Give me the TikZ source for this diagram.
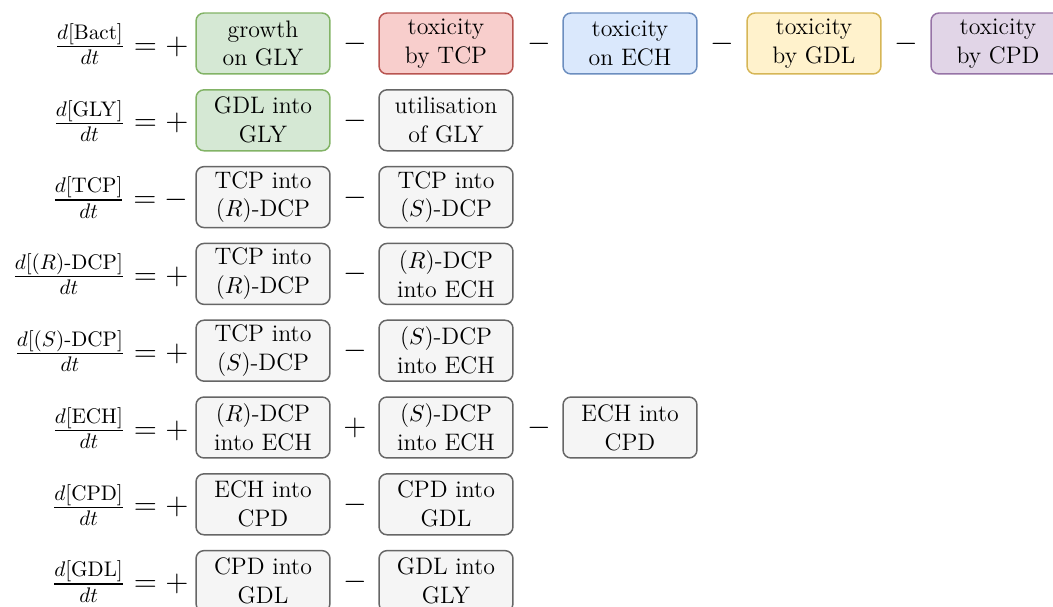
\documentclass[tikz,border=0pt]{standalone}
\usepackage{amsmath}
\definecolor{gfill}{HTML}{D5E8D4}\definecolor{gline}{HTML}{82B366}
\definecolor{rfill}{HTML}{F8CECC}\definecolor{rline}{HTML}{B85450}
\definecolor{bfill}{HTML}{DAE8FC}\definecolor{bline}{HTML}{6C8EBF}
\definecolor{yfill}{HTML}{FFF2CC}\definecolor{yline}{HTML}{D6B656}
\definecolor{pfill}{HTML}{E1D5E7}\definecolor{pline}{HTML}{9673A6}
\definecolor{nfill}{HTML}{F5F5F5}\definecolor{nline}{HTML}{666666}
\tikzset{
  term/.style={draw=nline, fill=nfill, line width=0.7pt, rounded corners=3.8pt,
    minimum width=63.5pt, minimum height=28.9pt, inner sep=0pt, align=center,
    font=\fontsize{11.3}{13.7}\selectfont},
  gterm/.style={term, draw=gline, fill=gfill},
  rterm/.style={term, draw=rline, fill=rfill},
  bterm/.style={term, draw=bline, fill=bfill},
  yterm/.style={term, draw=yline, fill=yfill},
  pterm/.style={term, draw=pline, fill=pfill},
  lhs/.style={anchor=east, inner sep=0pt, font=\fontsize{14.4}{17}\selectfont},
  sgn/.style={inner sep=0pt, font=\fontsize{14.4}{17}\selectfont},
}
\begin{document}
\begin{tikzpicture}[x=0.474pt, y=-0.474pt]
\useasboundingbox (0,0) rectangle (1053,607);
% row 1
\node[lhs] (l1) at (189,44) {$\frac{d[\mathrm{Bact}]}{dt} = +$};
\node[gterm] (a1) at (263,43.5) {growth\\on GLY};
\node[sgn] (s11) at (355,44) {$-$};
\node[rterm] (b1) at (446,43.5) {toxicity\\by TCP};
\node[sgn] (s12) at (539,44) {$-$};
\node[bterm] (c1) at (630,43.5) {toxicity\\on ECH};
\node[sgn] (s13) at (722,44) {$-$};
\node[yterm] (d1) at (814,43.5) {toxicity\\by GDL};
\node[sgn] (s14) at (906,44) {$-$};
\node[pterm] (e1) at (998,43.5) {toxicity\\by CPD};
% row 2
\node[lhs] (l2) at (189,120.8) {$\frac{d[\mathrm{GLY}]}{dt} = +$};
\node[gterm] (a2) at (263,120.3) {GDL into\\GLY};
\node[sgn] (s21) at (355,120.8) {$-$};
\node[term] (b2) at (446,120.3) {utilisation\\of GLY};
% row 3
\node[lhs] (l3) at (189,197.6) {$\frac{d[\mathrm{TCP}]}{dt} = -$};
\node[term] (a3) at (263,197.1) {TCP into\\($R$)-DCP};
\node[sgn] (s31) at (355,197.6) {$-$};
\node[term] (b3) at (446,197.1) {TCP into\\($S$)-DCP};
% row 4
\node[lhs] (l4) at (189,274.4) {$\frac{d[(R)\text{-DCP}]}{dt} = +$};
\node[term] (a4) at (263,273.9) {TCP into\\($R$)-DCP};
\node[sgn] (s41) at (355,274.4) {$-$};
\node[term] (b4) at (446,273.9) {($R$)-DCP\\into ECH};
% row 5
\node[lhs] (l5) at (189,351.2) {$\frac{d[(S)\text{-DCP}]}{dt} = +$};
\node[term] (a5) at (263,350.7) {TCP into\\($S$)-DCP};
\node[sgn] (s51) at (355,351.2) {$-$};
\node[term] (b5) at (446,350.7) {($S$)-DCP\\into ECH};
% row 6
\node[lhs] (l6) at (189,428) {$\frac{d[\mathrm{ECH}]}{dt} = +$};
\node[term] (a6) at (263,427.5) {($R$)-DCP\\into ECH};
\node[sgn] (s61) at (355,428) {$+$};
\node[term] (b6) at (446,427.5) {($S$)-DCP\\into ECH};
\node[sgn] (s62) at (539,428) {$-$};
\node[term] (c6) at (630,427.5) {ECH into\\CPD};
% row 7
\node[lhs] (l7) at (189,504.8) {$\frac{d[\mathrm{CPD}]}{dt} = +$};
\node[term] (a7) at (263,504.3) {ECH into\\CPD};
\node[sgn] (s71) at (355,504.8) {$-$};
\node[term] (b7) at (446,504.3) {CPD into\\GDL};
% row 8
\node[lhs] (l8) at (189,581.6) {$\frac{d[\mathrm{GDL}]}{dt} = +$};
\node[term] (a8) at (263,581.1) {CPD into\\GDL};
\node[sgn] (s81) at (355,581.6) {$-$};
\node[term] (b8) at (446,581.1) {GDL into\\GLY};
\end{tikzpicture}
\end{document}
